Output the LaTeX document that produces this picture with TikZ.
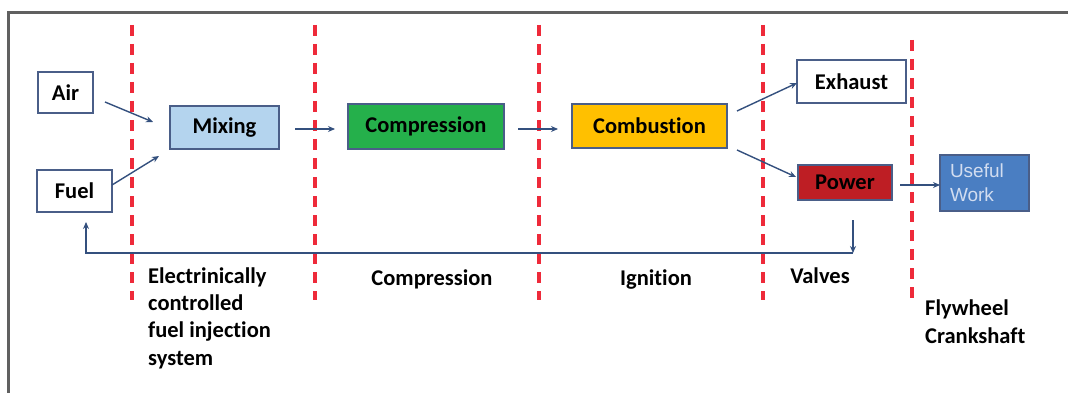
\documentclass[tikz,border=0pt]{standalone}
\usepackage{fontspec}
\setmainfont{Carlito}[Ligatures={NoCommon}]
\newfontfamily\arialfont{Liberation Sans}
\usetikzlibrary{arrows.meta}
\definecolor{arrowblue}{HTML}{34507E}
\definecolor{boxedge}{HTML}{4A5E88}
\definecolor{mixfill}{HTML}{B4D4EE}
\definecolor{compfill}{HTML}{25B04B}
\definecolor{combfill}{HTML}{FFC000}
\definecolor{powfill}{HTML}{BE1E24}
\definecolor{workfill}{HTML}{4A7EC2}
\definecolor{worktext}{HTML}{D2DDF0}
\definecolor{dashred}{HTML}{EE2A3A}
\definecolor{framegray}{HTML}{606060}
\tikzset{
  procbox/.style={draw=boxedge, line width=1.2pt, inner sep=0pt, font=\fontsize{22.5}{27}\selectfont\bfseries},
  flow/.style={draw=arrowblue, line width=1.4pt, -{Stealth[length=7pt,width=6pt]}},
  sep/.style={draw=dashred, line width=3.5pt, dash pattern=on 11pt off 8pt},
  lab/.style={font=\fontsize{22.5}{27.3}\selectfont\bfseries, inner sep=0pt}
}
\begin{document}
\begin{tikzpicture}[x=1pt,y=-1pt]
\useasboundingbox (0,0) rectangle (1068,393);
\fill[white] (0,0) rectangle (1068,393);
% frame
\draw[framegray, line width=3pt] (8,393) -- (8,13) -- (1068,13);
% separators
\draw[sep] (132,25) -- (132,300);
\draw[sep] (315,25) -- (315,300);
\draw[sep] (539,25) -- (539,300);
\draw[sep] (763,25) -- (763,300);
\draw[sep] (912,40) -- (912,300);
% boxes
\node[procbox, minimum width=55pt, minimum height=41pt] (air) at (65.5,92.5) {Air};
\node[procbox, minimum width=75pt, minimum height=42pt] (fuel) at (74.5,191) {Fuel};
\node[procbox, fill=mixfill, minimum width=109pt, minimum height=43pt] (mix) at (224.5,127.5) {Mixing};
\node[procbox, fill=compfill, minimum width=156pt, minimum height=45pt] (comp) at (426,126.5) {Compression};
\node[procbox, fill=combfill, minimum width=155pt, minimum height=44pt] (comb) at (649.5,126) {Combustion};
\node[procbox, minimum width=109pt, minimum height=43pt] (exh) at (851.5,81.5) {Exhaust};
\node[procbox, fill=powfill, minimum width=94pt, minimum height=35pt] (pow) at (845,182.5) {Power};
\node[procbox, fill=workfill, minimum width=89pt, minimum height=56pt, font=\arialfont\fontsize{19}{24}\selectfont, text=worktext, align=left, text width=69pt] (work) at (984.5,183) {Useful\\Work};
% coordinates
\coordinate (airS) at (105,102);
\coordinate (airE) at (153,122);
\coordinate (fuelS) at (112,185);
\coordinate (fuelE) at (159,156);
\coordinate (mixS) at (295,129);
\coordinate (compE) at (335,129);
\coordinate (compS) at (518,129);
\coordinate (combE) at (558,129);
\coordinate (combA) at (737,111);
\coordinate (exhE) at (797,83);
\coordinate (combB) at (737,150);
\coordinate (powE) at (796,177);
\coordinate (powS) at (900,185);
\coordinate (workE) at (940,185);
\coordinate (fbTop) at (853,220);
\coordinate (fbCorner) at (853,253);
\coordinate (fbEnd) at (86,222);
% arrows
\draw[flow] (airS) -- (airE);
\draw[flow] (fuelS) -- (fuelE);
\draw[flow] (mixS) -- (compE);
\draw[flow] (compS) -- (combE);
\draw[flow] (combA) -- (exhE);
\draw[flow] (combB) -- (powE);
\draw[flow] (powS) -- (workE);
\draw[flow] (fbTop) -- (fbCorner);
\draw[flow] (fbCorner) -| (fbEnd);
% labels
\node[lab, anchor=base west, align=left] (l1) at (148,365) {Electrinically\\controlled\\fuel injection\\system};
\node[lab, anchor=base] (l2) at (432,285) {Compression};
\node[lab, anchor=base] (l3) at (656,285) {Ignition};
\node[lab, anchor=base] (l4) at (820,283) {Valves};
\node[lab, anchor=base west, align=left] (l5) at (925,343) {Flywheel\\Crankshaft};
\end{tikzpicture}
\end{document}
